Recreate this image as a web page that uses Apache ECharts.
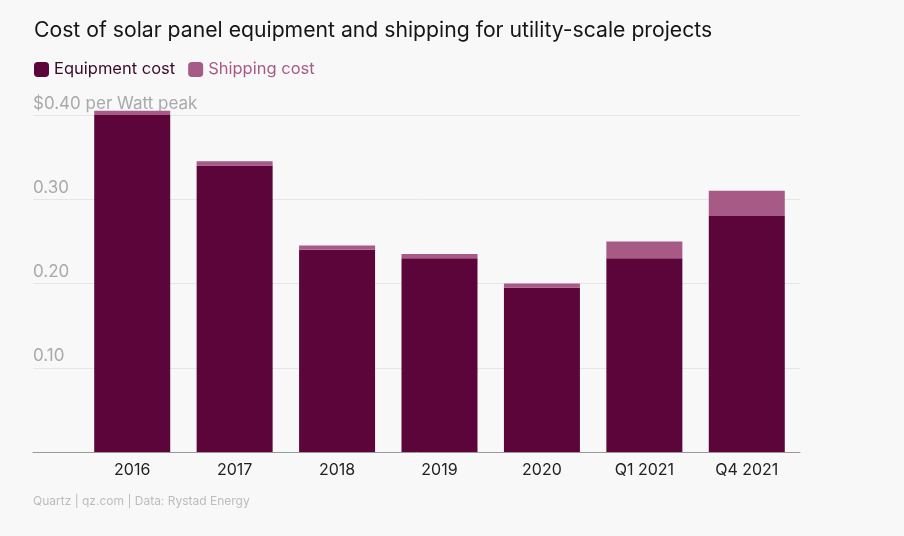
<!DOCTYPE html>
<html><head><meta charset="utf-8">
<script src="https://cdn.jsdelivr.net/npm/echarts@6/dist/echarts.min.js"></script>
<style>html,body{margin:0;padding:0;background:#f8f8f8}#c{width:904px;height:536px}</style>
</head><body><div id="c"></div>
<script>
const categories = ['2016','2017','2018','2019','2020','Q1 2021','Q4 2021'];
const equipmentCost = [0.40, 0.34, 0.24, 0.23, 0.195, 0.23, 0.28];
const shippingCost = [0.005, 0.005, 0.005, 0.005, 0.005, 0.02, 0.03];
const yTicks = [0, 0.1, 0.2, 0.3, 0.4];

const FONT = 'Inter, "Noto Sans", sans-serif';
const chart = echarts.init(document.getElementById('c'));
chart.setOption({
  backgroundColor: '#f8f8f8',
  animation: false,
  title: {
    text: 'Cost of solar panel equipment and shipping for utility-scale projects',
    left: 29, top: 15,
    textStyle: {fontFamily: FONT, fontSize: 21.2, fontWeight: 'normal', color: '#151515'}
  },
  graphic: [{
    type: 'text', left: 33, top: 495,
    style: {text: 'Quartz | qz.com | Data: Rystad Energy', fill: '#bcbcbc', font: '12px ' + FONT}
  }],
  legend: {
    left: 29, top: 56, itemWidth: 15, itemHeight: 15, itemGap: 13, icon: 'roundRect',
    textStyle: {fontFamily: FONT, fontSize: 16.5},
    data: [
      {name: 'Equipment cost', textStyle: {color: '#3a0a28'}},
      {name: 'Shipping cost', textStyle: {color: '#a85a87'}}
    ]
  },
  grid: [
    {left: 33, right: 104, top: 115, bottom: 84},
    {left: 81, right: 106, top: 115, bottom: 84}
  ],
  xAxis: [
    {gridIndex: 0, type: 'category', data: categories, axisLine: {show: true, lineStyle: {color: '#999', width: 1}},
     axisTick: {show: false}, axisLabel: {show: false}},
    {gridIndex: 1, type: 'category', data: categories, axisLine: {show: false}, axisTick: {show: false},
     axisLabel: {color: '#222', fontFamily: FONT, fontSize: 16, margin: 10}}
  ],
  yAxis: [
    {gridIndex: 0, type: 'value', min: yTicks[0], max: yTicks[yTicks.length-1], interval: 0.1,
     axisLine: {show: false}, axisTick: {show: false},
     splitLine: {lineStyle: {color: '#e6e6e6', width: 1}},
     axisLabel: {inside: true, showMinLabel: false, margin: 0, verticalAlign: 'bottom', padding: [0,0,3,0],
       color: '#a9a9a9', fontFamily: FONT, fontSize: 17,
       formatter: v => Math.abs(v - 0.4) < 1e-9 ? '$0.40 per Watt peak' : v.toFixed(2)}},
    {gridIndex: 1, type: 'value', min: yTicks[0], max: yTicks[yTicks.length-1], interval: 0.1,
     show: false, splitLine: {show: false}}
  ],
  series: [
    {name: 'Equipment cost', type: 'bar', stack: 'a', xAxisIndex: 1, yAxisIndex: 1, clip: false,
     barWidth: 76, data: equipmentCost, itemStyle: {color: '#5c053b'}},
    {name: 'Shipping cost', type: 'bar', stack: 'a', xAxisIndex: 1, yAxisIndex: 1, clip: false,
     barWidth: 76, data: shippingCost, itemStyle: {color: '#a85a87'}}
  ]
});
</script></body></html>
